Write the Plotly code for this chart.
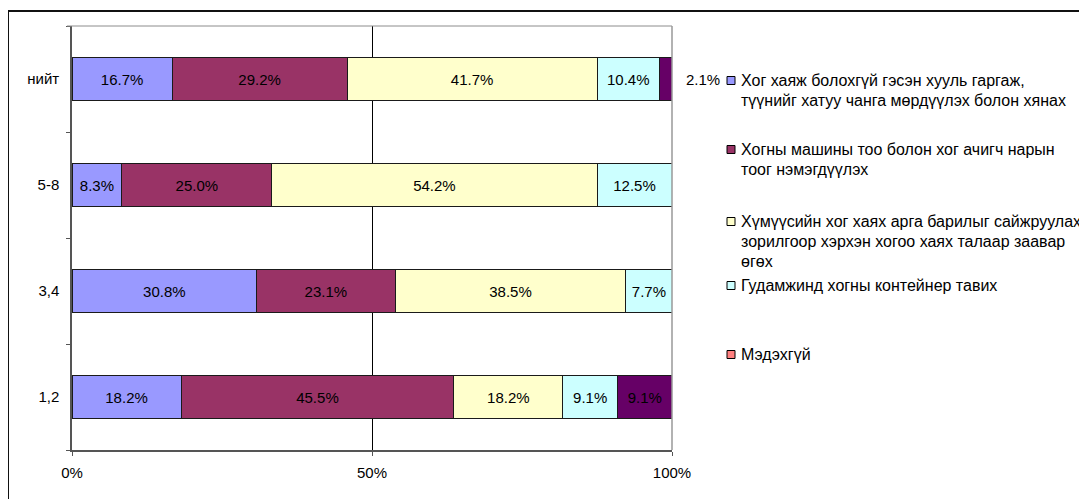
import plotly.graph_objects as go

categories = ["1,2", "3,4", "5-8", "нийт"]
series_names = [
    "Хог хаяж болохгүй гэсэн хууль гаргаж,<br>түүнийг хатуу чанга мөрдүүлэх болон хянах",
    "Хогны машины тоо болон хог ачигч нарын<br>тоог нэмэгдүүлэх",
    "Хүмүүсийн хог хаях арга барилыг сайжруулах<br>зорилгоор хэрхэн хогоо хаях талаар заавар<br>өгөх",
    "Гудамжинд хогны контейнер тавих",
    "Мэдэхгүй",
]
s1 = [18.2, 30.8, 8.3, 16.7]
s2 = [45.5, 23.1, 25.0, 29.2]
s3 = [18.2, 38.5, 54.2, 41.7]
s4 = [9.1, 7.7, 12.5, 10.4]
s5 = [9.1, 0.0, 0.0, 2.1]
series_values = [s1, s2, s3, s4, s5]
bar_colors = ["#9999FF", "#993366", "#FFFFCC", "#CCFFFF", "#660066"]
legend_colors = ["#9999FF", "#993366", "#FFFFCC", "#CCFFFF", "#FF8080"]
x_tickvals = [0, 50, 100]
x_ticktext = ["0%", "50%", "100%"]

OFF = 8  # page body margin
W, H = 1087 - OFF, 499 - OFF
# desired plot area in screenshot pixels
PX0, PX1, PY0, PY1 = 72, 672, 26, 450
L, T = PX0 - OFF, PY0 - OFF
R, B = W - (PX1 - OFF), H - (PY1 - OFF)
pw, ph = PX1 - PX0, PY1 - PY0


def px_x(p):
    return (p - PX0) / pw


def px_y(p):
    return (PY1 - p) / ph


fig = go.Figure()
FONT = "Liberation Sans, Arial, sans-serif"
FS = 15
LFS = 16

for i, vals in enumerate(series_values):
    texts = []
    for v in vals:
        if v == 0 or v < 5:
            texts.append("")
        else:
            texts.append(f"{v:.1f}%")
    fig.add_trace(go.Bar(
        y=categories, x=vals, orientation="h",
        marker=dict(color=bar_colors[i], line=dict(color="#1a1a1a", width=1)),
        text=texts, textposition="inside", insidetextanchor="middle",
        textangle=0, constraintext="none",
        textfont=dict(family=FONT, size=FS, color="#000000"),
        showlegend=False, hoverinfo="skip",
    ))

annotations = []
shapes = []
for i, vals in enumerate(series_values):
    for j, v in enumerate(vals):
        if 0 < v < 5 and i == len(series_values) - 1:
            annotations.append(dict(
                x=100, y=categories[j], xref="x", yref="y",
                text=f"{v:.1f}%", showarrow=False, xanchor="left",
                xshift=12, font=dict(family=FONT, size=FS, color="#000000"),
            ))

# manual legend
legend_rows = [80, 149, 221, 285, 354]
line_gap = 20
for i, name in enumerate(series_names):
    y0 = legend_rows[i]
    shapes.append(dict(
        type="rect", xref="paper", yref="paper",
        x0=px_x(727), x1=px_x(735), y0=px_y(y0 + 4.5), y1=px_y(y0 - 3.5),
        fillcolor=legend_colors[i], line=dict(color="#000000", width=1),
    ))
    for k, line in enumerate(name.split("<br>")):
        annotations.append(dict(
            x=px_x(739), y=px_y(y0 + k * line_gap), xref="paper", yref="paper",
            text=line, showarrow=False, xanchor="left", yanchor="middle",
            font=dict(family=FONT, size=LFS, color="#000000"),
        ))

# outer border
shapes.append(dict(
    type="rect", xref="paper", yref="paper",
    x0=px_x(8), x1=px_x(1110), y0=px_y(530), y1=px_y(11),
    line=dict(color="#111111", width=2), fillcolor="rgba(0,0,0,0)", layer="below",
))
# plot area top and right border
shapes.append(dict(type="line", xref="paper", yref="paper",
                   x0=px_x(67), x1=1, y0=1, y1=1,
                   line=dict(color="#8c8c8c", width=1)))
shapes.append(dict(type="line", xref="paper", yref="paper",
                   x0=1, x1=1, y0=0, y1=1,
                   line=dict(color="#999999", width=1.5)))

fig.update_layout(
    width=W, height=H,
    margin=dict(l=L, r=R, t=T, b=B, pad=0),
    barmode="stack", barnorm="percent", bargap=0.6,
    plot_bgcolor="white", paper_bgcolor="white",
    font=dict(family=FONT, size=FS, color="#000000"),
    xaxis=dict(
        range=[0, 100], tickvals=x_tickvals, ticktext=x_ticktext,
        showgrid=True, gridcolor="#000000", gridwidth=1,
        showline=True, linecolor="#555555", linewidth=1.5,
        ticks="outside", ticklen=4, tickcolor="#555555",
        ticklabelstandoff=4, zeroline=False, fixedrange=True,
        tickfont=dict(family=FONT, size=FS, color="#000000"),
    ),
    yaxis=dict(
        categoryorder="array", categoryarray=categories,
        showline=True, linecolor="#555555", linewidth=1.5,
        ticks="outside", ticklen=4, tickcolor="#555555",
        tickson="boundaries", ticklabelstandoff=8,
        showgrid=False, zeroline=False, fixedrange=True,
        tickfont=dict(family=FONT, size=FS, color="#000000"),
    ),
    annotations=annotations, shapes=shapes,
    uniformtext=dict(mode=False),
)

fig.write_html("out.html")
